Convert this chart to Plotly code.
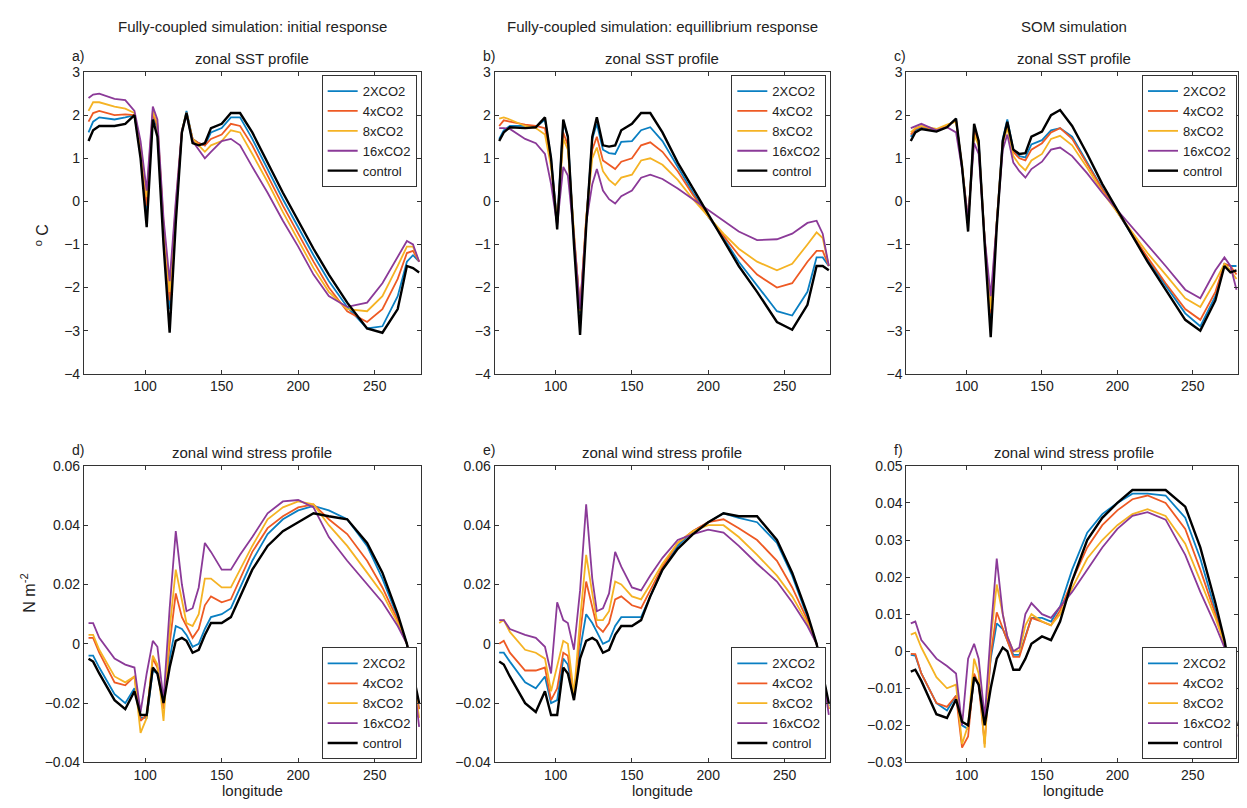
import plotly.graph_objects as go

LON = [63, 66, 70, 80, 87, 93, 97, 101, 105, 108, 112, 116, 120, 124, 127, 131, 135, 139,
       143, 150, 156, 162, 170, 180, 190, 200, 210, 220, 232, 245, 255, 265, 271, 275, 279]

NAMES = ["2XCO2", "4xCO2", "8xCO2", "16xCO2", "control"]
COLORS = ["#0a7fc2", "#ee5a24", "#f5b324", "#8b3a98", "#000000"]

# panel a: fully coupled, initial response, SST
SST_A = {
    "control": [1.4, 1.65, 1.75, 1.75, 1.8, 2.0, 1.0, -0.6, 1.9, 1.5, -1.0, -3.05, -0.5, 1.6, 2.05, 1.35, 1.3, 1.35, 1.7, 1.8, 2.05, 2.05, 1.6, 0.9, 0.2, -0.45, -1.1, -1.7, -2.35, -2.95, -3.05, -2.5, -1.5, -1.55, -1.65],
    "2XCO2": [1.6, 1.85, 1.95, 1.9, 1.95, 2.0, 1.1, -0.3, 2.0, 1.7, -0.8, -2.5, -0.3, 1.6, 2.1, 1.45, 1.35, 1.3, 1.6, 1.7, 1.95, 1.95, 1.45, 0.75, 0.05, -0.6, -1.25, -1.85, -2.45, -2.95, -2.9, -2.2, -1.4, -1.25, -1.4],
    "4xCO2": [1.85, 2.05, 2.1, 2.0, 2.02, 2.0, 1.2, -0.1, 2.05, 1.75, -0.6, -2.3, -0.2, 1.6, 2.05, 1.45, 1.35, 1.3, 1.45, 1.55, 1.8, 1.75, 1.3, 0.6, -0.1, -0.75, -1.4, -2.0, -2.55, -2.8, -2.5, -1.8, -1.2, -1.15, -1.4],
    "8xCO2": [2.1, 2.3, 2.3, 2.2, 2.15, 2.05, 1.3, 0.1, 2.1, 1.8, -0.5, -2.1, -0.1, 1.65, 2.05, 1.45, 1.3, 1.15, 1.3, 1.4, 1.65, 1.6, 1.1, 0.45, -0.25, -0.9, -1.55, -2.1, -2.5, -2.55, -2.2, -1.5, -1.05, -1.05, -1.4],
    "16xCO2": [2.4, 2.48, 2.5, 2.38, 2.35, 2.1, 1.4, 0.25, 2.2, 1.9, -0.4, -1.85, 0.0, 1.65, 2.0, 1.4, 1.2, 1.0, 1.15, 1.4, 1.45, 1.3, 0.8, 0.2, -0.45, -1.05, -1.7, -2.2, -2.45, -2.35, -1.9, -1.3, -0.92, -1.0, -1.4],
}

# panel b: fully coupled, equilibrium response, SST
SST_B = {
    "control": [1.4, 1.6, 1.72, 1.7, 1.72, 1.95, 1.0, -0.65, 1.9, 1.5, -1.0, -3.1, -0.6, 1.5, 1.95, 1.3, 1.27, 1.3, 1.65, 1.8, 2.05, 2.05, 1.6, 0.9, 0.3, -0.3, -0.9, -1.5, -2.1, -2.8, -2.98, -2.4, -1.5, -1.5, -1.6],
    "2XCO2": [1.45, 1.65, 1.75, 1.75, 1.72, 1.9, 1.0, -0.5, 1.85, 1.5, -0.9, -2.6, -0.5, 1.45, 1.8, 1.2, 1.12, 1.1, 1.38, 1.4, 1.65, 1.72, 1.4, 0.8, 0.2, -0.35, -0.85, -1.4, -1.95, -2.55, -2.65, -2.1, -1.3, -1.3, -1.5],
    "4xCO2": [1.75, 1.88, 1.85, 1.78, 1.75, 1.7, 0.9, -0.5, 1.6, 1.3, -0.8, -2.5, -0.4, 1.2, 1.5, 0.95, 0.85, 0.75, 0.92, 1.0, 1.3, 1.37, 1.15, 0.7, 0.15, -0.35, -0.8, -1.25, -1.7, -2.0, -1.9, -1.4, -1.15, -1.15, -1.5],
    "8xCO2": [1.92, 1.95, 1.9, 1.75, 1.7, 1.55, 0.8, -0.5, 1.45, 1.2, -0.7, -2.55, -0.4, 1.0, 1.25, 0.7, 0.5, 0.38, 0.55, 0.62, 0.95, 1.0, 0.85, 0.5, 0.05, -0.35, -0.75, -1.1, -1.4, -1.6, -1.45, -1.0, -0.72, -0.85, -1.5],
    "16xCO2": [1.7, 1.7, 1.68, 1.45, 1.35, 1.1, 0.4, -0.55, 0.8, 0.6, -0.8, -2.5, -0.5, 0.4, 0.75, 0.25, 0.05, -0.05, 0.12, 0.25, 0.55, 0.62, 0.52, 0.3, 0.05, -0.2, -0.45, -0.7, -0.9, -0.88, -0.75, -0.5, -0.45, -0.75, -1.5],
}

# panel c: SOM simulation, SST
SST_C = {
    "control": [1.4, 1.6, 1.68, 1.62, 1.72, 1.92, 0.8, -0.7, 1.8, 1.4, -1.0, -3.15, -0.6, 1.4, 1.85, 1.2, 1.1, 1.12, 1.5, 1.62, 2.0, 2.12, 1.75, 1.1, 0.4, -0.2, -0.8, -1.4, -2.05, -2.75, -3.0, -2.3, -1.5, -1.65, -1.6],
    "2XCO2": [1.5, 1.65, 1.72, 1.65, 1.75, 1.9, 0.8, -0.5, 1.7, 1.4, -0.9, -2.7, -0.5, 1.45, 1.9, 1.2, 1.05, 1.02, 1.32, 1.42, 1.65, 1.7, 1.5, 0.9, 0.3, -0.25, -0.8, -1.35, -1.95, -2.6, -2.9, -2.2, -1.45, -1.5, -1.5],
    "4xCO2": [1.55, 1.68, 1.74, 1.66, 1.76, 1.88, 0.8, -0.5, 1.65, 1.35, -0.9, -2.6, -0.5, 1.4, 1.8, 1.15, 1.0, 0.95, 1.2, 1.35, 1.6, 1.7, 1.45, 0.88, 0.28, -0.25, -0.78, -1.3, -1.9, -2.5, -2.75, -2.1, -1.45, -1.5, -1.7],
    "8xCO2": [1.6, 1.7, 1.75, 1.68, 1.78, 1.85, 0.85, -0.45, 1.55, 1.3, -0.85, -2.5, -0.45, 1.35, 1.7, 1.05, 0.85, 0.72, 0.95, 1.1, 1.45, 1.52, 1.3, 0.78, 0.22, -0.25, -0.72, -1.2, -1.7, -2.25, -2.45, -1.85, -1.45, -1.6, -1.8],
    "16xCO2": [1.7, 1.75, 1.8, 1.65, 1.72, 1.6, 0.75, -0.4, 1.35, 1.1, -0.85, -2.2, -0.4, 1.2, 1.55, 0.9, 0.7, 0.55, 0.75, 0.92, 1.2, 1.25, 1.05, 0.65, 0.2, -0.2, -0.6, -1.0, -1.5, -2.05, -2.25, -1.6, -1.3, -1.5, -2.05],
}

# panel d: fully coupled, initial response, wind stress
TAU_D = {
    "control": [-0.005, -0.006, -0.01, -0.019, -0.022, -0.016, -0.024, -0.024, -0.008, -0.01, -0.02, -0.008, 0.001, 0.002, 0.001, -0.003, -0.002, 0.003, 0.007, 0.007, 0.009, 0.016, 0.025, 0.033, 0.038, 0.041, 0.044, 0.043, 0.042, 0.034, 0.024, 0.01, 0.0, -0.01, -0.02],
    "2XCO2": [-0.004, -0.004, -0.008, -0.017, -0.02, -0.015, -0.025, -0.025, -0.009, -0.01, -0.02, -0.005, 0.006, 0.005, 0.003, -0.001, 0.0, 0.005, 0.009, 0.01, 0.012, 0.019, 0.028, 0.037, 0.042, 0.045, 0.0465, 0.045, 0.042, 0.033, 0.022, 0.009, 0.0, -0.01, -0.022],
    "4xCO2": [0.002, 0.002, -0.003, -0.013, -0.014, -0.011, -0.026, -0.024, -0.005, -0.008, -0.022, 0.0, 0.017, 0.009, 0.006, 0.002, 0.005, 0.013, 0.016, 0.014, 0.015, 0.022, 0.031, 0.039, 0.043, 0.046, 0.047, 0.042, 0.037, 0.028, 0.019, 0.008, 0.0, -0.01, -0.022],
    "8xCO2": [0.003, 0.003, -0.002, -0.011, -0.013, -0.011, -0.03, -0.025, -0.004, -0.007, -0.026, 0.005, 0.025, 0.015, 0.007, 0.006, 0.01, 0.022, 0.022, 0.019, 0.019, 0.025, 0.033, 0.042, 0.046, 0.048, 0.047, 0.04, 0.033, 0.024, 0.017, 0.007, 0.0, -0.01, -0.025],
    "16xCO2": [0.007, 0.007, 0.002, -0.005, -0.007, -0.008, -0.023, -0.01, 0.001, -0.001, -0.019, 0.012, 0.038, 0.02, 0.011, 0.012, 0.019, 0.034, 0.031, 0.025, 0.025, 0.03, 0.036, 0.044, 0.048, 0.0485, 0.046, 0.036, 0.028, 0.02, 0.014, 0.006, 0.0, -0.01, -0.028],
}

# panel e: fully coupled, equilibrium response, wind stress
TAU_E = {
    "control": [-0.006, -0.007, -0.011, -0.02, -0.023, -0.016, -0.024, -0.024, -0.008, -0.01, -0.019, -0.005, 0.001, 0.002, 0.001, -0.003, -0.002, 0.003, 0.006, 0.006, 0.008, 0.016, 0.025, 0.032, 0.037, 0.041, 0.044, 0.043, 0.043, 0.035, 0.024, 0.01, 0.0, -0.01, -0.02],
    "2XCO2": [-0.003, -0.003, -0.006, -0.013, -0.015, -0.011, -0.02, -0.019, -0.005, -0.007, -0.018, -0.002, 0.01, 0.007, 0.004, 0.0, 0.001, 0.006, 0.009, 0.009, 0.009, 0.016, 0.025, 0.033, 0.038, 0.041, 0.044, 0.0425, 0.041, 0.034, 0.023, 0.009, 0.0, -0.01, -0.021],
    "4xCO2": [0.0, 0.001, -0.003, -0.009, -0.009, -0.008, -0.019, -0.015, -0.003, -0.004, -0.018, 0.003, 0.021, 0.012, 0.006, 0.004, 0.007, 0.015, 0.016, 0.013, 0.012, 0.018, 0.026, 0.034, 0.038, 0.041, 0.042, 0.039, 0.035, 0.028, 0.019, 0.008, 0.0, -0.01, -0.022],
    "8xCO2": [0.007, 0.008, 0.004, -0.002, -0.003, -0.005, -0.016, -0.008, 0.001, 0.0, -0.017, 0.008, 0.03, 0.017, 0.008, 0.008, 0.011, 0.021, 0.02, 0.016, 0.015, 0.02, 0.027, 0.034, 0.038, 0.04, 0.04, 0.036, 0.03, 0.023, 0.016, 0.007, 0.0, -0.01, -0.022],
    "16xCO2": [0.008, 0.008, 0.005, 0.003, 0.002, -0.001, -0.01, 0.014, 0.008, 0.007, -0.002, 0.018, 0.047, 0.022, 0.011, 0.012, 0.017, 0.031, 0.026, 0.019, 0.018, 0.023, 0.029, 0.035, 0.037, 0.0385, 0.0375, 0.033, 0.027, 0.021, 0.014, 0.006, 0.0, -0.01, -0.024],
}

# panel f: SOM simulation, wind stress
TAU_F = {
    "control": [-0.0055, -0.005, -0.008, -0.017, -0.018, -0.013, -0.019, -0.02, -0.007, -0.009, -0.02, -0.01, -0.002, 0.001, 0.0, -0.005, -0.005, -0.002, 0.002, 0.004, 0.003, 0.008, 0.019, 0.03, 0.036, 0.04, 0.0435, 0.0435, 0.0435, 0.039, 0.028, 0.013, 0.003, -0.006, -0.02],
    "2XCO2": [-0.001, -0.0012, -0.006, -0.014, -0.016, -0.012, -0.02, -0.021, -0.007, -0.009, -0.019, -0.002, 0.0075, 0.006, 0.003, -0.001, -0.001, 0.004, 0.009, 0.009, 0.008, 0.012, 0.022, 0.032, 0.037, 0.04, 0.0425, 0.0425, 0.042, 0.036, 0.025, 0.011, 0.002, -0.006, -0.02],
    "4xCO2": [-0.0007, -0.0008, -0.006, -0.014, -0.015, -0.012, -0.026, -0.023, -0.006, -0.009, -0.025, -0.001, 0.0105, 0.006, 0.003, -0.0015, -0.0015, 0.004, 0.009, 0.008, 0.007, 0.011, 0.019, 0.028, 0.034, 0.038, 0.041, 0.042, 0.04, 0.033, 0.022, 0.01, 0.002, -0.006, -0.02],
    "8xCO2": [0.0045, 0.005, 0.001, -0.007, -0.01, -0.009, -0.025, -0.02, -0.002, -0.006, -0.026, 0.003, 0.018, 0.01, 0.004, 0.0, 0.0, 0.007, 0.01, 0.008, 0.007, 0.01, 0.017, 0.025, 0.03, 0.034, 0.037, 0.0383, 0.0365, 0.029, 0.019, 0.009, 0.002, -0.006, -0.021],
    "16xCO2": [0.0075, 0.008, 0.003, -0.002, -0.004, -0.006, -0.02, -0.002, 0.002, -0.002, -0.018, 0.005, 0.025, 0.01, 0.004, 0.0, 0.001, 0.01, 0.013, 0.01, 0.009, 0.012, 0.016, 0.022, 0.028, 0.033, 0.0365, 0.0375, 0.0355, 0.026, 0.016, 0.007, 0.001, -0.007, -0.023],
}

COLS = [(82, 419), (493, 829), (905, 1240)]      # plot area x extent, px in the reference
ROWS = [(73, 374), (466, 762)]                   # plot area y extent, px
FONT = "Liberation Sans, Arial, sans-serif"


def fx(px):
    # reference pixel -> paper fraction (calibrated against the rendered page)
    return min(1.0, max(0.0, (px - 6) / 1231))


def fy(py):
    return min(1.0, max(0.0, 1 - (py - 17) / 774.5))


panels = [
    (SST_A, 0, 0, "a)", "zonal SST profile", [-4, 3], 1),
    (SST_B, 0, 1, "b)", "zonal SST profile", [-4, 3], 1),
    (SST_C, 0, 2, "c)", "zonal SST profile", [-4, 3], 1),
    (TAU_D, 1, 0, "d)", "zonal wind stress profile", [-0.04, 0.06], 0.02),
    (TAU_E, 1, 1, "e)", "zonal wind stress profile", [-0.04, 0.06], 0.02),
    (TAU_F, 1, 2, "f)", "zonal wind stress profile", [-0.03, 0.05], 0.01),
]

fig = go.Figure()
annotations = []
layout = {}

for i, (data, r, c, tag, title, yr, dt) in enumerate(panels):
    n = i + 1
    sfx = "" if n == 1 else str(n)
    x0, x1 = COLS[c]
    y0, y1 = ROWS[r]
    leg = "legend" + sfx
    for name, color in zip(NAMES, COLORS):
        fig.add_trace(go.Scatter(
            x=LON, y=data[name], mode="lines", name=name,
            line=dict(color=color, width=2.4 if name == "control" else 1.8),
            xaxis="x" + sfx, yaxis="y" + sfx, legend=leg,
        ))
    ax = dict(showline=True, linecolor="#333", linewidth=1, mirror="ticks",
              ticks="inside", ticklen=4, tickcolor="#333", showgrid=False,
              zeroline=False, tickfont=dict(size=14, color="#222"))
    layout["xaxis" + sfx] = dict(ax, domain=[fx(x0), fx(x1)], range=[60, 280],
                                 tickvals=[100, 150, 200, 250],
                                 anchor="y" + sfx)
    layout["yaxis" + sfx] = dict(ax, domain=[fy(y1), fy(y0)], range=yr,
                                 dtick=dt, anchor="x" + sfx)
    # legend box
    ly = fy(y0 + 3) if r == 0 else fy(y1 - 3)
    layout[leg] = dict(x=fx(x1 - 4), xanchor="right", y=ly,
                       yanchor="top" if r == 0 else "bottom",
                       bgcolor="white", bordercolor="#333", borderwidth=1,
                       font=dict(size=13, color="#222"), tracegroupgap=0,
                       itemwidth=30)
    annotations.append(dict(x=fx((x0 + x1) / 2), y=fy(y0 - 3), xref="paper", yref="paper",
                            xanchor="center", yanchor="bottom", text=title, showarrow=False,
                            font=dict(size=15, color="#222")))
    annotations.append(dict(x=fx(x0 - 14), y=fy(y0 - 6), xref="paper", yref="paper",
                            yanchor="bottom", text=tag, showarrow=False, xanchor="left",
                            font=dict(size=14, color="#222")))
    if r == 1:
        annotations.append(dict(x=fx((x0 + x1) / 2), y=fy(y1 + 18), xref="paper", yref="paper",
                                xanchor="center", yanchor="top", text="longitude",
                                showarrow=False, font=dict(size=15, color="#222")))

for (x0, x1), t in zip(COLS, ["Fully-coupled simulation: initial response",
                              "Fully-coupled simulation: equillibrium response",
                              "SOM simulation"]):
    annotations.append(dict(x=fx((x0 + x1) / 2), y=fy(10), xref="paper", yref="paper",
                            xanchor="center", text=t, showarrow=False,
                            font=dict(size=15, color="#222")))

annotations.append(dict(x=fx(40), y=fy(223), xref="paper", yref="paper", textangle=-90,
                        xanchor="center", text="<sup>o</sup> C", showarrow=False,
                        font=dict(size=16, color="#222")))
annotations.append(dict(x=fx(26), y=fy(614), xref="paper", yref="paper", textangle=-90,
                        xanchor="center", text="N m<sup>-2</sup>", showarrow=False,
                        font=dict(size=16, color="#222")))

fig.update_layout(autosize=True, margin=dict(l=0, r=0, t=0, b=0),
                  paper_bgcolor="white", plot_bgcolor="white",
                  font=dict(family=FONT), annotations=annotations, **layout)

fig.write_html("out.html", config={"responsive": True})
